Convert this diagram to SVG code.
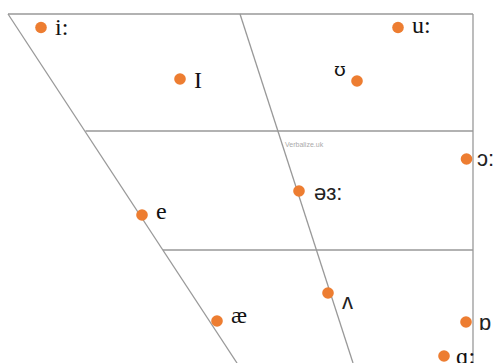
<svg xmlns="http://www.w3.org/2000/svg" width="496" height="363" viewBox="0 0 496 363">
<style>
.ln{stroke:#999;stroke-width:1.3;fill:none}
.dot{fill:#ED7D31}
.sr{font-family:"Liberation Serif","DejaVu Serif",serif;font-size:24px;fill:#111}
.dv{font-family:"DejaVu Serif",serif;font-size:19px;fill:#111}
.ss{font-family:"Liberation Sans","DejaVu Sans",sans-serif;font-size:22px;fill:#222}
.wm{font-family:"Liberation Sans",sans-serif;font-size:7px;fill:#aaa}
</style>
<rect width="496" height="363" fill="#fff"/>
<g id="connectors">
<line class="ln" x1="8" y1="14" x2="473" y2="14"/>
<line class="ln" x1="473" y1="14" x2="473" y2="363"/>
<line class="ln" x1="8" y1="14" x2="237" y2="363"/>
<line class="ln" x1="240" y1="14" x2="353" y2="363"/>
<line class="ln" x1="85.5" y1="131" x2="473" y2="131"/>
<line class="ln" x1="163" y1="250" x2="473" y2="250"/>
</g>
<text class="wm" x="285" y="147">Verbalize.uk</text>
<g id="i"><circle class="dot" cx="41" cy="27.5" r="5.8"/><text class="sr" x="55" y="35">i:</text></g>
<g id="I"><circle class="dot" cx="180" cy="79" r="5.8"/><text class="sr" x="194" y="88">I</text></g>
<g id="u"><circle class="dot" cx="398" cy="27.5" r="5.8"/><text class="sr" x="412" y="33">u:</text></g>
<g id="ʊ"><circle class="dot" cx="357" cy="81" r="5.8"/><text class="dv" x="334" y="76">ʊ</text></g>
<g id="ɔ"><circle class="dot" cx="466.5" cy="159" r="5.8"/><text class="ss" x="477" y="166">ɔ:</text></g>
<g id="ə"><circle class="dot" cx="299" cy="191" r="5.8"/><text class="ss" x="314" y="200">əɜ:</text></g>
<g id="e"><circle class="dot" cx="142" cy="215" r="5.8"/><text class="sr" x="156" y="219">e</text></g>
<g id="ae"><circle class="dot" cx="217" cy="321" r="5.8"/><text class="sr" x="231" y="323">æ</text></g>
<g id="ʌ"><circle class="dot" cx="328" cy="293" r="5.8"/><text class="ss" x="342" y="309">ʌ</text></g>
<g id="ɒ"><circle class="dot" cx="466" cy="322" r="5.8"/><text class="ss" x="479" y="330">ɒ</text></g>
<g id="ɑ"><circle class="dot" cx="444" cy="356" r="5.8"/><text class="sr" x="456" y="364">ɑ:</text></g>
</svg>
